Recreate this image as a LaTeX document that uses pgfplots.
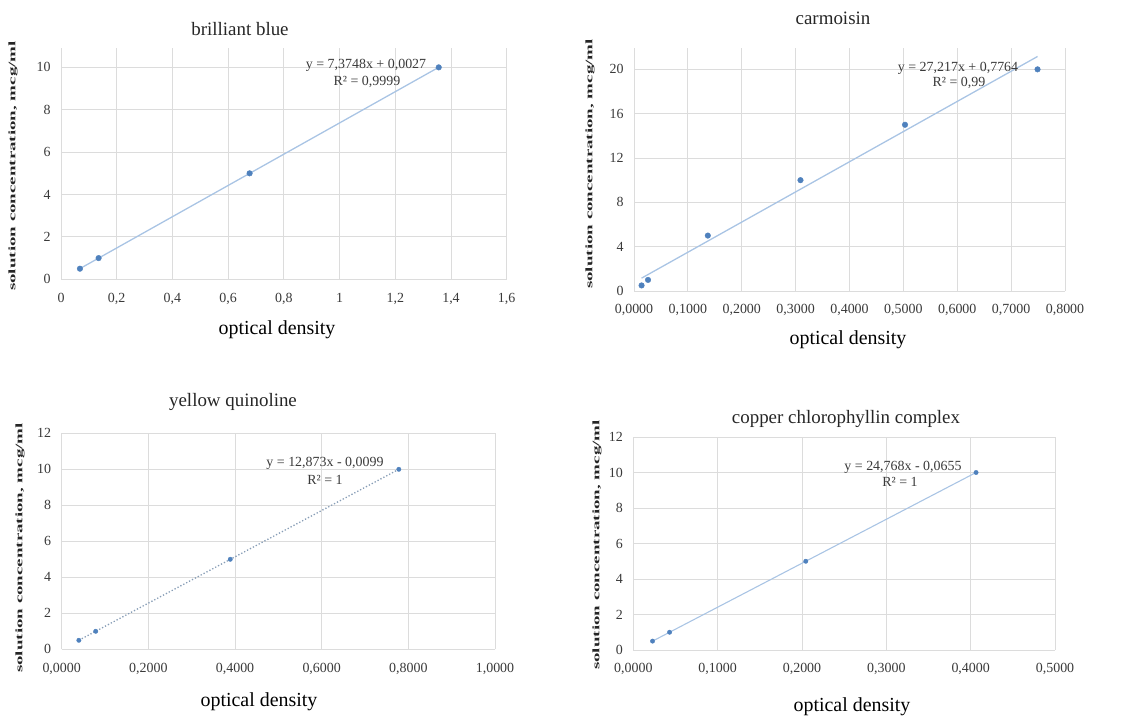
\documentclass[border=0pt]{standalone}
\usepackage{fontspec}
\setmainfont{Liberation Serif}
\usepackage{graphicx}
\usepackage{pgfplots}
\pgfplotsset{compat=1.18}
\definecolor{ptblue}{HTML}{4F81BD}
\definecolor{trend}{HTML}{A9C4E4}
\definecolor{gridc}{HTML}{DCDCDC}
\definecolor{txt}{HTML}{3A3A3A}
\pgfplotsset{
  panel/.style={scale only axis, anchor=south west, clip=false,
    axis line style={draw=none}, grid=major,
    major grid style={gridc, line width=0.9pt},
    tick style={draw=none},
    ticklabel style={font=\fontsize{14}{14}\selectfont, text=txt},
    /pgf/number format/assume math mode=true,
    /pgf/number format/use comma,
    xticklabel shift=10bp, yticklabel shift=7bp, ymin=0},
  pts/.style={only marks, mark=*, mark size=2.8bp, color=ptblue},
  fit/.style={trend, line width=1.3pt, no marks},
}
\newcommand{\ylab}{\scalebox{1.9}[1]{\fontsize{10}{10}\selectfont\bfseries solution concentration, mcg/ml}}
\newcommand{\xlab}{\fontsize{20}{20}\selectfont optical density}
\tikzset{ttl/.style={font=\fontsize{19}{19}\selectfont, text=black!85},
  eqn/.style={font=\fontsize{14}{14}\selectfont, text=txt, inner sep=0pt}}
\begin{document}
\begin{tikzpicture}[x=1bp,y=1bp]
\path[use as bounding box] (0,0) rectangle (1130,717);

% brilliant blue
\begin{axis}[panel, at={(61bp,437.7bp)}, width=445.7bp, height=231bp,
  xmin=0, xmax=1.6, ymax=10.9, xtick={0,0.2,...,1.6}, ytick={0,2,...,10},
  xticklabel style={/pgf/number format/fixed, /pgf/number format/precision=1}]
 \addplot[fit] coordinates {(0.068,0.504)(1.356,10.003)};
 \addplot[pts] coordinates {(0.068,0.5)(0.135,1)(0.677,5)(1.356,10)};
\end{axis}

% carmoisin
\begin{axis}[panel, at={(634bp,426bp)}, width=431bp, height=242.7bp,
  xmin=0, xmax=0.8, ymax=21.9, xtick={0,0.1,...,0.8}, ytick={0,4,...,20},
  xticklabel style={/pgf/number format/fixed, /pgf/number format/fixed zerofill, /pgf/number format/precision=4}]
 \addplot[fit] coordinates {(0.014,1.157)(0.749,21.16)};
 \addplot[pts] coordinates {(0.014,0.5)(0.026,1)(0.137,5)(0.309,10)(0.503,15)(0.749,20)};
\end{axis}

% yellow quinoline
\begin{axis}[panel, at={(61.7bp,67.7bp)}, width=433.3bp, height=216bp,
  xmin=0, xmax=1.0, ymax=12, xtick={0,0.2,...,1.0}, ytick={0,2,...,12},
  xticklabel style={/pgf/number format/fixed, /pgf/number format/fixed zerofill, /pgf/number format/precision=4}]
 \addplot[trend!80!black, line width=1.3pt, dotted, no marks] coordinates {(0.0396,0.5)(0.778,10.0)};
 \addplot[pts, mark size=2.2bp] coordinates {(0.0396,0.5)(0.0785,1)(0.389,5)(0.778,10)};
\end{axis}

% copper chlorophyllin complex
\begin{axis}[panel, at={(633.3bp,67bp)}, width=421.7bp, height=213bp,
  xmin=0, xmax=0.5, ymax=12, xtick={0,0.1,...,0.5}, ytick={0,2,...,12},
  xticklabel style={/pgf/number format/fixed, /pgf/number format/fixed zerofill, /pgf/number format/precision=4}]
 \addplot[fit, line width=1.1pt] coordinates {(0.0228,0.499)(0.4064,10.0)};
 \addplot[pts, mark size=2.2bp] coordinates {(0.0228,0.5)(0.043,1)(0.2045,5)(0.4064,10)};
\end{axis}

% titles
\node[ttl] at (240,688) {brilliant blue};
\node[ttl] at (833,699) {carmoisin};
\node[ttl] at (233,315) {yellow quinoline};
\node[ttl] at (846,298) {copper chlorophyllin complex};
% x labels
\node at (277,387) {\xlab};
\node at (848,377) {\xlab};
\node at (259,15) {\xlab};
\node at (852,10) {\xlab};
% y labels
\node[rotate=90, text=black!85] at (13,551) {\ylab};
\node[rotate=90, text=black!85] at (590,553) {\ylab};
\node[rotate=90, text=black!85] at (20,169) {\ylab};
\node[rotate=90, text=black!85] at (597,172) {\ylab};
% trendline equations
\node[eqn] at (366,652) {y = 7,3748x + 0,0027};
\node[eqn] at (367,635) {R² = 0,9999};
\node[eqn] at (958,649) {y = 27,217x + 0,7764};
\node[eqn] at (959,634) {R² = 0,99};
\node[eqn] at (325,254) {y = 12,873x - 0,0099};
\node[eqn] at (325,237) {R² = 1};
\node[eqn] at (903,250) {y = 24,768x - 0,0655};
\node[eqn] at (900,235) {R² = 1};
\end{tikzpicture}
\end{document}
